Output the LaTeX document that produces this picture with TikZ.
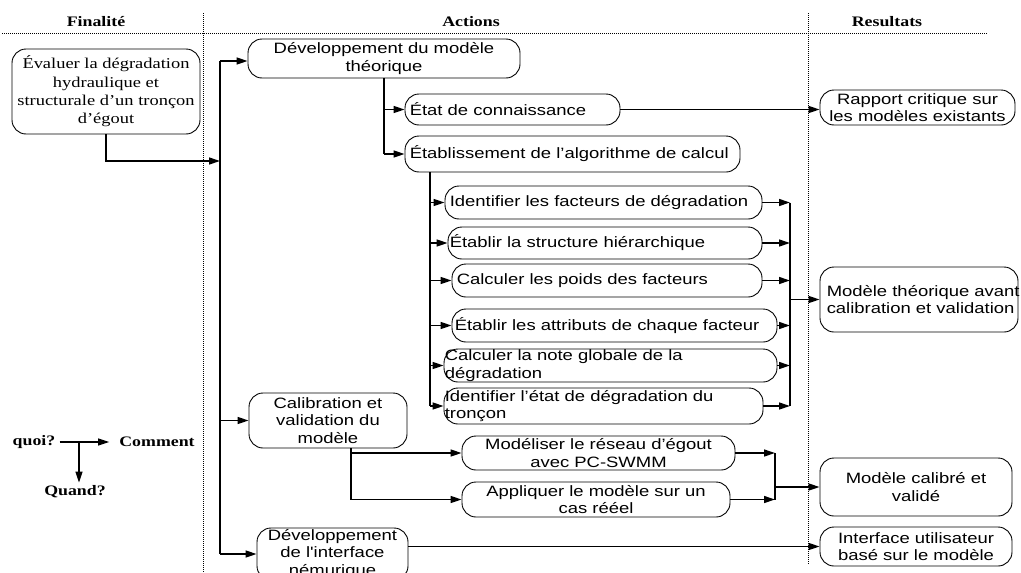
\documentclass[tikz,border=0pt]{standalone}
\usepackage{fontspec}
\usetikzlibrary{arrows.meta}
\newfontfamily\sansbox[FakeStretch=1.23]{Liberation Sans}
\newfontfamily\serifbox[FakeStretch=1.23]{Liberation Serif}
\begin{document}
\begin{tikzpicture}[x=1pt,y=-1pt,
  box/.style={draw, line width=0.9pt, rounded corners=14pt, inner xsep=3pt, inner ysep=0pt,
    align=center, font=\sansbox\fontsize{15}{17.5}\selectfont},
  txt/.style={inner sep=0pt, align=left, font=\sansbox\fontsize{15}{17.5}\selectfont},
  conn/.style={line width=1.3pt},
  arr/.style={conn, -{Triangle[length=11pt,width=7pt]}},
  sep/.style={densely dotted, line width=1pt},
  hdr/.style={inner sep=0pt, font=\serifbox\bfseries\fontsize{14.5}{17}\selectfont}]
\useasboundingbox (0,0) rectangle (1021,573);
\clip (0,0) rectangle (1021,573);

% separators and headers
\draw[sep] (2,33) -- (988,33);
\draw[sep] (203,13) -- (203,573);
\draw[sep] (808,13) -- (808,565);
\node[hdr] (hfin) at (96,22) {Finalité};
\node[hdr] (hact) at (471,22) {Actions};
\node[hdr] (hres) at (887,22) {Resultats};

% Finalite
\node[box, minimum width=188pt, minimum height=85pt,
  font=\serifbox\fontsize{15}{18.3}\selectfont] (fin) at (106,91.5)
  {Évaluer la dégradation\\hydraulique et\\structurale d’un tronçon\\d’égout};

% Actions, main boxes
\node[box, minimum width=272pt, minimum height=39pt] (dev) at (384,58.5)
  {Développement du modèle\\théorique};
\node[box, minimum width=158pt, minimum height=55pt] (calib) at (328,420.5)
  {Calibration et\\validation du\\modèle};
\node[box, minimum width=151pt, minimum height=52pt] (devint) at (332.5,554)
  {Développement\\de l'interface\\némurique};

% second level
\node[box, minimum width=215pt, minimum height=31pt] (etat) at (512.5,109.5) {};
\node[txt, anchor=west] (etatt) at ([xshift=5pt]etat.west) {État de connaissance};
\node[box, minimum width=335pt, minimum height=36pt] (etab) at (572.5,154) {};
\node[txt, anchor=west] (etabt) at ([xshift=5pt]etab.west) {Établissement de l’algorithme de calcul};

% algorithm steps
\node[box, minimum width=317pt, minimum height=33pt] (s1) at (603.5,202.5) {};
\node[txt, anchor=west] (s1t) at ([xshift=5pt]s1.west) {Identifier les facteurs de dégradation};
\node[box, minimum width=314pt, minimum height=32pt] (s2) at (605,243) {};
\node[txt, anchor=west] (s2t) at ([xshift=2pt]s2.west) {Établir la structure hiérarchique};
\node[box, minimum width=310pt, minimum height=33pt] (s3) at (607,280.5) {};
\node[txt, anchor=west] (s3t) at ([xshift=5pt]s3.west) {Calculer les poids des facteurs};
\node[box, minimum width=325pt, minimum height=33pt] (s4) at (614.5,325.5) {};
\node[txt, anchor=west] (s4t) at ([xshift=3pt]s4.west) {Établir les attributs de chaque facteur};
\node[box, minimum width=333pt, minimum height=33pt] (s5) at (610.5,365.5) {};
\node[txt, anchor=west] (s5t) at ([xshift=1pt]s5.west) {Calculer la note globale de la\\dégradation};
\node[box, minimum width=319pt, minimum height=36pt] (s6) at (603.5,406) {};
\node[txt, anchor=west] (s6t) at ([xshift=1pt]s6.west) {Identifier l’état de dégradation du\\tronçon};

% calibration steps
\node[box, minimum width=273pt, minimum height=34pt] (mod) at (598.5,453)
  {Modéliser le réseau d’égout\\avec PC-SWMM};
\node[box, minimum width=268pt, minimum height=35pt] (app) at (596,499.5)
  {Appliquer le modèle sur un\\cas rééel};

% results
\node[box, minimum width=195pt, minimum height=35pt] (rap) at (917.5,107.5)
  {Rapport critique sur\\les modèles existants};
\node[box, minimum width=198pt, minimum height=65pt] (mth) at (919,299.5) {};
\node[txt, anchor=west] (mtht) at ([xshift=7pt]mth.west) {Modèle théorique avant\\calibration et validation};
\node[box, minimum width=192pt, minimum height=58pt] (cal) at (916,487)
  {Modèle calibré et\\validé};
\node[box, minimum width=192pt, minimum height=39pt] (itf) at (916,546.5)
  {Interface utilisateur\\basé sur le modèle};

% connectors: trunk
\coordinate (ttop) at (220,61);
\coordinate (tbot) at (220,554);
\coordinate (tin) at (220,161);
\draw[conn] (ttop) -- (tbot);
\draw[arr] (fin.south) |- (tin);
\draw[arr] (ttop) -- (ttop -| dev.west);
\draw[arr] (calib.west -| ttop) -- (calib.west);
\draw[arr] (tbot) -- (tbot -| devint.west);

% branch from dev
\draw[conn] (dev.south) -- (dev.south |- etab.west);
\draw[arr] (dev.south |- etat.west) -- (etat.west);
\draw[arr] (dev.south |- etab.west) -- (etab.west);
\draw[arr] (etat.east) -- (etat.east -| rap.west);

% branch from etab
\coordinate (b2) at (430,0);
\draw[conn] (etab.south -| b2) -- (s6.west -| b2);
\foreach \s in {s1,s2,s3,s4,s5,s6}{
  \draw[arr] (\s.west -| b2) -- (\s.west);
}
\coordinate (c1) at (790,0);
\foreach \s in {s1,s2,s3,s4,s5,s6}{
  \draw[arr] (\s.east) -- (\s.east -| c1);
}
\draw[conn] (s1.east -| c1) -- (s6.east -| c1);
\draw[arr] (mth.west -| c1) -- (mth.west);

% branch from calibration
\coordinate (b3) at (351,0);
\draw[conn] (calib.south -| b3) -- (app.west -| b3);
\draw[arr] (mod.west -| b3) -- (mod.west);
\draw[arr] (app.west -| b3) -- (app.west);
\coordinate (c2) at (775,0);
\draw[arr] (mod.east) -- (mod.east -| c2);
\draw[arr] (app.east) -- (app.east -| c2);
\draw[conn] (mod.east -| c2) -- (app.east -| c2);
\draw[arr] (cal.west -| c2) -- (cal.west);

% interface
\draw[arr] (devint.east |- itf.west) -- (itf.west);

% legend
\node[hdr] (quoi) at (34,442) {quoi?};
\node[hdr] (comment) at (157,442) {Comment};
\node[hdr] (quand) at (75,492) {Quand?};
\coordinate (lj) at (79,442);
\draw[arr] ([xshift=4pt]quoi.east) -- ([xshift=-10pt]comment.west);
\draw[arr, shorten >=3pt] (lj) -- (lj |- quand.north);
\end{tikzpicture}
\end{document}
